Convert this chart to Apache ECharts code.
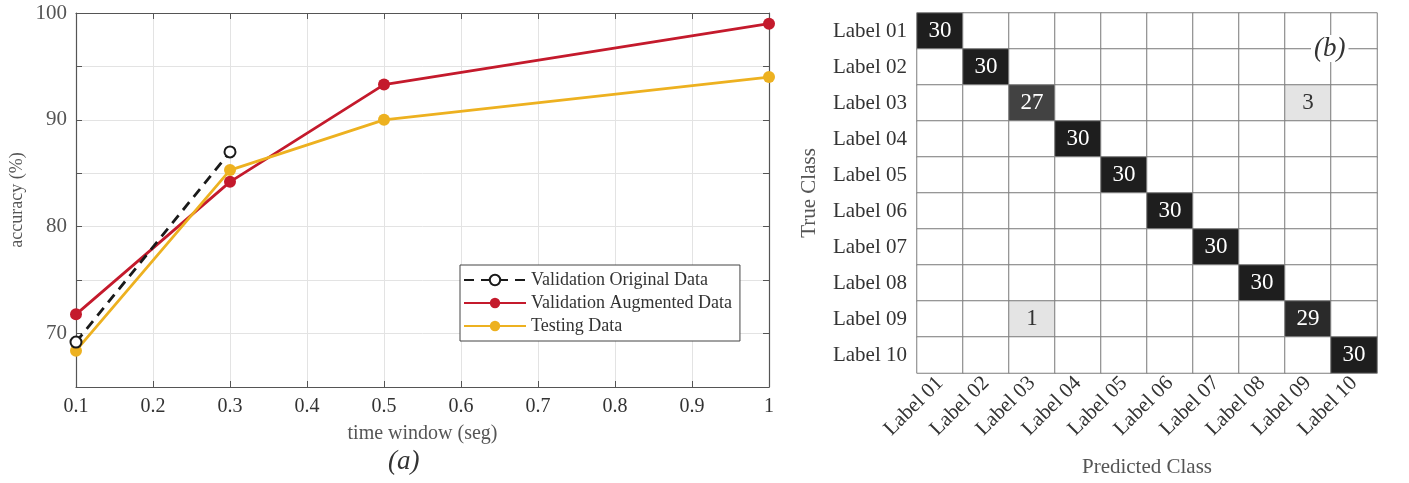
<!DOCTYPE html>
<html>
<head>
<meta charset="utf-8">
<script src="https://cdn.jsdelivr.net/npm/echarts@6/dist/echarts.min.js"></script>
<style>
  html, body { margin: 0; padding: 0; background: #fff; }
  #chart { width: 1409px; height: 483px; }
</style>
</head>
<body>
<div id="chart"></div>
<script>
// Accuracy vs. time window
const timeWindows = [0.1, 0.3, 0.5, 1];
const validationOriginal = [69.2, 87.0];           // only 0.1 and 0.3 s
const validationAugmented = [71.8, 84.2, 93.3, 99.0];
const testing = [68.4, 85.3, 90.0, 94.0];

// Confusion matrix (rows: true class, cols: predicted class)
const classLabels = ['Label 01', 'Label 02', 'Label 03', 'Label 04', 'Label 05',
                     'Label 06', 'Label 07', 'Label 08', 'Label 09', 'Label 10'];
const confusion = [
  [30, 0, 0, 0, 0, 0, 0, 0, 0, 0],
  [0, 30, 0, 0, 0, 0, 0, 0, 0, 0],
  [0, 0, 27, 0, 0, 0, 0, 0, 3, 0],
  [0, 0, 0, 30, 0, 0, 0, 0, 0, 0],
  [0, 0, 0, 0, 30, 0, 0, 0, 0, 0],
  [0, 0, 0, 0, 0, 30, 0, 0, 0, 0],
  [0, 0, 0, 0, 0, 0, 30, 0, 0, 0],
  [0, 0, 0, 0, 0, 0, 0, 30, 0, 0],
  [0, 0, 1, 0, 0, 0, 0, 0, 29, 0],
  [0, 0, 0, 0, 0, 0, 0, 0, 0, 30]
];

const SERIF = '"Liberation Serif", "DejaVu Serif", serif';
const RED = '#c41a2c';
const GOLD = '#edb120';

function cellGray(v) {
  if (v === 0) return '#ffffff';
  if (v < 15) return '#e4e4e4';
  const g = Math.round(30 + (30 - v) * 12);
  const h = g.toString(16).padStart(2, '0');
  return '#' + h + h + h;
}

const heatData = [];
confusion.forEach((row, r) => {
  row.forEach((v, c) => {
    heatData.push({
      value: [c, r, v],
      itemStyle: { color: cellGray(v) },
      label: { color: v >= 15 ? '#ffffff' : '#333333' }
    });
  });
});

const pairs = (xs, ys) => ys.map((y, i) => [xs[i], y]);

const axisGray = '#555555';
const chart = echarts.init(document.getElementById('chart'), null, { renderer: 'canvas' });

chart.setOption({
  animation: false,
  textStyle: { fontFamily: SERIF },
  grid: [
    { left: 76, top: 13, width: 693, height: 374, outerBoundsMode: 'none', containLabel: false },
    { left: 917, top: 13, width: 460, height: 360, outerBoundsMode: 'none', containLabel: false }
  ],
  legend: {
    left: 460, top: 265,
    orient: 'vertical',
    itemWidth: 62, itemHeight: 13, itemGap: 5,
    padding: [6, 8, 6, 3],
    borderColor: '#444', borderWidth: 1,
    backgroundColor: '#fff',
    textStyle: { fontFamily: SERIF, fontSize: 18, color: '#333' },
    data: ['Validation Original Data', 'Validation Augmented Data', 'Testing Data']
  },
  xAxis: [
    {
      gridIndex: 0, type: 'value', min: 0.1, max: 1, interval: 0.1,
      name: 'time window (seg)', nameLocation: 'middle', nameGap: 37,
      nameTextStyle: { fontFamily: SERIF, fontSize: 20, color: axisGray },
      axisLine: { lineStyle: { color: axisGray, width: 1.2 } },
      axisTick: { inside: true, length: 6, lineStyle: { color: axisGray } },
      axisLabel: { fontFamily: SERIF, fontSize: 20, color: '#333', margin: 10 },
      splitLine: { show: true, lineStyle: { color: '#e3e3e3', width: 1 } }
    },
    {
      gridIndex: 0, type: 'value', min: 0.1, max: 1, interval: 0.1, position: 'top',
      axisLine: { lineStyle: { color: axisGray, width: 1.2 } },
      axisTick: { inside: true, length: 6, lineStyle: { color: axisGray } },
      axisLabel: { show: false }, splitLine: { show: false }
    },
    {
      gridIndex: 1, type: 'category', data: classLabels,
      name: 'Predicted Class', nameLocation: 'middle', nameGap: 84,
      nameTextStyle: { fontFamily: SERIF, fontSize: 21, color: axisGray },
      axisLine: { show: false }, axisTick: { show: false },
      axisLabel: { rotate: 45, fontFamily: SERIF, fontSize: 21, color: '#333', margin: 7, interval: 0 },
      splitLine: { show: false }
    }
  ],
  yAxis: [
    {
      gridIndex: 0, type: 'value', min: 65, max: 100, interval: 5,
      name: 'accuracy (%)', nameLocation: 'middle', nameGap: 50,
      nameTextStyle: { fontFamily: SERIF, fontSize: 18, color: axisGray },
      axisLine: { show: true, lineStyle: { color: axisGray, width: 1.2 } },
      axisTick: { show: true, inside: true, length: 6, lineStyle: { color: axisGray } },
      axisLabel: {
        fontFamily: SERIF, fontSize: 21, color: axisGray, margin: 9,
        formatter: v => (v % 10 === 0 ? String(v) : '')
      },
      splitLine: { show: true, lineStyle: { color: '#e3e3e3', width: 1 } }
    },
    {
      gridIndex: 0, type: 'value', min: 65, max: 100, interval: 5, position: 'right',
      axisLine: { show: true, lineStyle: { color: axisGray, width: 1.2 } },
      axisTick: { show: true, inside: true, length: 6, lineStyle: { color: axisGray } },
      axisLabel: { show: false }, splitLine: { show: false }
    },
    {
      gridIndex: 1, type: 'category', data: classLabels, inverse: true,
      name: 'True Class', nameLocation: 'middle', nameGap: 97,
      nameTextStyle: { fontFamily: SERIF, fontSize: 21, color: axisGray },
      axisLine: { show: false }, axisTick: { show: false },
      axisLabel: { fontFamily: SERIF, fontSize: 21, color: '#333', margin: 10, interval: 0 },
      splitLine: { show: false }
    }
  ],
  series: [
    {
      name: 'Validation Original Data', type: 'line', xAxisIndex: 0, yAxisIndex: 0,
      data: pairs(timeWindows, validationOriginal),
      symbol: 'emptyCircle', symbolSize: 11,
      lineStyle: { color: '#1a1a1a', width: 2.8, type: [10, 7] },
      itemStyle: { color: '#1a1a1a', borderColor: '#1a1a1a', borderWidth: 2 },
      z: 4
    },
    {
      name: 'Validation Augmented Data', type: 'line', xAxisIndex: 0, yAxisIndex: 0,
      data: pairs(timeWindows, validationAugmented),
      symbol: 'circle', symbolSize: 12,
      lineStyle: { color: RED, width: 2.8 },
      itemStyle: { color: RED },
      z: 3
    },
    {
      name: 'Testing Data', type: 'line', xAxisIndex: 0, yAxisIndex: 0,
      data: pairs(timeWindows, testing),
      symbol: 'circle', symbolSize: 12,
      lineStyle: { color: GOLD, width: 2.8 },
      itemStyle: { color: GOLD },
      z: 3
    },
    {
      type: 'heatmap', xAxisIndex: 2, yAxisIndex: 2,
      data: heatData,
      itemStyle: { borderColor: '#7d7d7d', borderWidth: 1 },
      label: {
        show: true, fontFamily: SERIF, fontSize: 23,
        formatter: p => (p.value[2] > 0 ? String(p.value[2]) : '')
      },
      emphasis: { disabled: true }
    }
  ],
  graphic: [
    {
      type: 'text', left: 388, top: 448,
      style: { text: '(a)', font: 'italic 27px ' + SERIF, fill: '#333' }
    },
    {
      type: 'text', left: 1311, top: 35,
      style: {
        text: '(b)', font: 'italic 27px ' + SERIF, fill: '#333',
        backgroundColor: '#fff', padding: [0, 3, 0, 3]
      },
      z: 100
    }
  ]
});
</script>
</body>
</html>
